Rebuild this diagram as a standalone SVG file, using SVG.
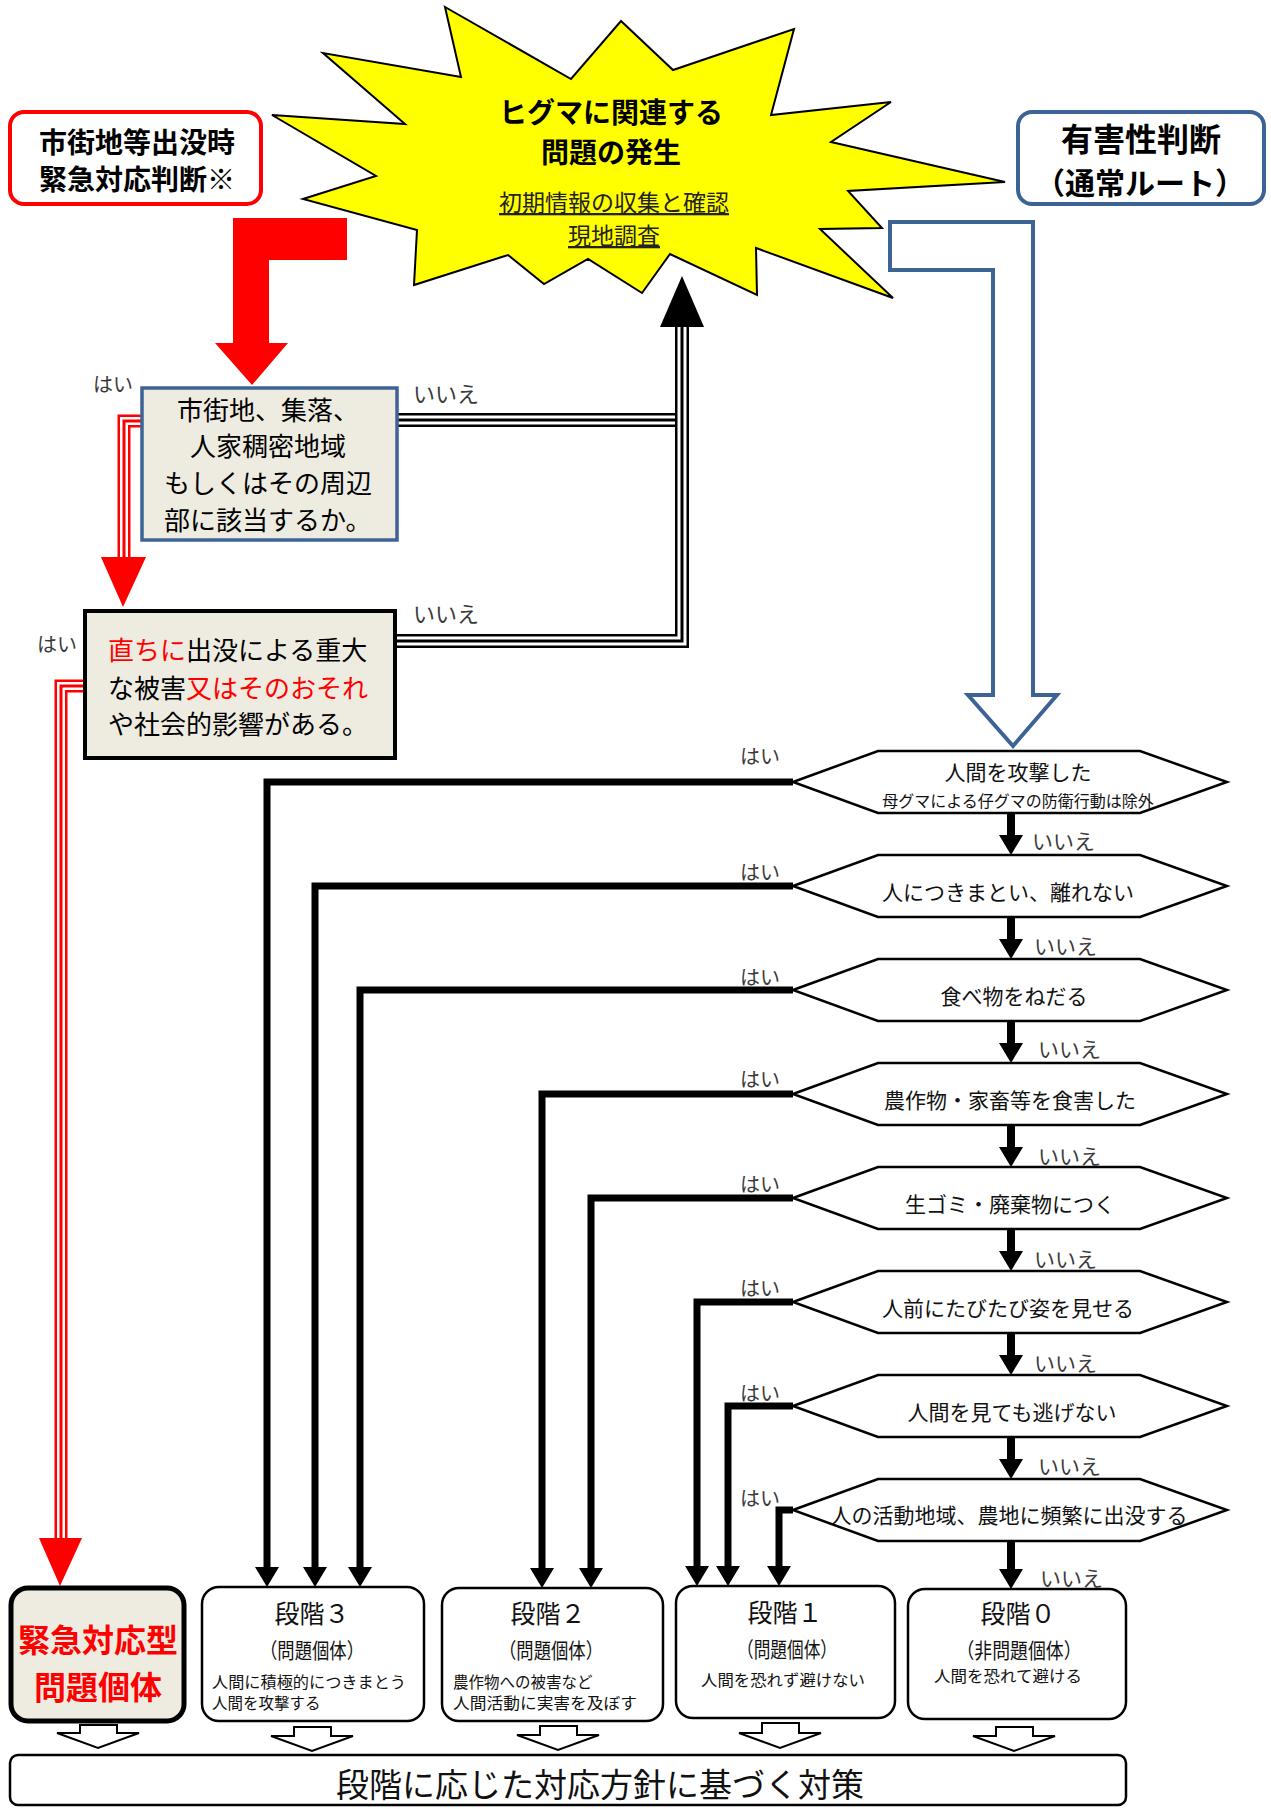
<svg xmlns="http://www.w3.org/2000/svg" width="1271" height="1809" viewBox="0 0 1271 1809">
<defs>
<style>
text { font-family: "Noto Sans CJK JP", "Noto Sans", sans-serif; }
.b { font-weight: bold; }
.mid { text-anchor: middle; }
.lbl { font-size: 20px; fill: #3a3a3a; }
.lbl2 { font-size: 22px; fill: #3a3a3a; }
.no { font-size: 21px; fill: #3a3a3a; }
.hx { fill: #fff; stroke: #000; stroke-width: 2.5; }
.hxt { font-size: 21px; fill: #111; text-anchor: middle; }
.hxs { font-size: 16px; fill: #111; text-anchor: middle; }
.stage { fill: #fff; stroke: #000; stroke-width: 2.5; }
.st-title { font-size: 25px; fill: #111; text-anchor: middle; }
.st-sub { font-size: 21px; fill: #111; text-anchor: middle; }
.st-desc { font-size: 15.5px; fill: #111; }
.blk { fill: none; stroke: #000; stroke-width: 7; stroke-linejoin: miter; }
.dn { fill: none; stroke: #000; stroke-width: 8; }
.hollow { fill: #fff; stroke: #000; stroke-width: 2; stroke-linejoin: miter; }
.k1 { fill: none; stroke: #000; stroke-width: 14; stroke-linejoin: miter; }
.w1 { fill: none; stroke: #fff; stroke-width: 9; stroke-linejoin: miter; }
.k2 { fill: none; stroke: #000; stroke-width: 3; stroke-linejoin: miter; }
.r1 { fill: none; stroke: #f00; stroke-width: 13; stroke-linejoin: miter; }
.rw { fill: none; stroke: #fff; stroke-width: 8; stroke-linejoin: miter; }
.r2 { fill: none; stroke: #f00; stroke-width: 3; stroke-linejoin: miter; }
.beige { fill: #EEECE1; }
</style>
<marker id="ah" markerUnits="userSpaceOnUse" viewBox="0 -12 20 24" refX="0" refY="0" markerWidth="20" markerHeight="24" orient="auto" overflow="visible">
<path d="M0,-12 L20,0 L0,12 Z" fill="#000"/>
</marker>
</defs>
<rect x="0" y="0" width="1271" height="1809" fill="#fff"/>

<g id="connectors">
  <!-- red L arrow from emergency judgement -->
  <polygon points="347,218 233,218 233,343 215,343 252,385 288,343 269,343 269,260 347,260" fill="#f00"/>
  <!-- blue hollow L arrow (normal route) -->
  <polygon points="890,222 1033,222 1033,695 1057,695 1013,746 968,695 993,695 993,270 890,270" fill="#fff" stroke="#3D6396" stroke-width="4"/>

  <!-- black triple lines back to start -->
  <path class="k1" d="M397,420 H682"/>
  <path class="w1" d="M397,420 H682"/>
  <path class="k2" d="M397,420 H682"/>
  <path class="k1" d="M395,641 H682 V326"/>
  <path class="w1" d="M395,641 H682 V326"/>
  <path class="k2" d="M395,641 H682 V326"/>
  <polygon points="660,327 704,327 682,276" fill="#000"/>

  <!-- red triple lines (yes) -->
  <path class="r1" d="M142,421 H124 V558"/>
  <path class="rw" d="M142,421 H124 V558"/>
  <path class="r2" d="M142,421 H124 V558"/>
  <polygon points="101,557 146,557 123,607" fill="#f00"/>
  <path class="r1" d="M85,686 H61 V1539"/>
  <path class="rw" d="M85,686 H61 V1539"/>
  <path class="r2" d="M85,686 H61 V1539"/>
  <polygon points="39,1538 82,1538 60,1586" fill="#f00"/>

  <!-- yes branches from hexagons -->
  <path class="blk" d="M793,782 H267 V1567" marker-end="url(#ah)"/>
  <path class="blk" d="M793,886 H315 V1567" marker-end="url(#ah)"/>
  <path class="blk" d="M793,990 H360 V1567" marker-end="url(#ah)"/>
  <path class="blk" d="M793,1094 H542 V1568" marker-end="url(#ah)"/>
  <path class="blk" d="M793,1198 H591 V1568" marker-end="url(#ah)"/>
  <path class="blk" d="M793,1302 H697 V1566" marker-end="url(#ah)"/>
  <path class="blk" d="M793,1406 H728 V1566" marker-end="url(#ah)"/>
  <path class="blk" d="M793,1510 H779 V1566" marker-end="url(#ah)"/>

  <!-- no arrows between hexagons -->
  <path class="dn" d="M1011,812 V835" marker-end="url(#ah)"/>
  <path class="dn" d="M1011,916 V939" marker-end="url(#ah)"/>
  <path class="dn" d="M1011,1020 V1043" marker-end="url(#ah)"/>
  <path class="dn" d="M1011,1124 V1147" marker-end="url(#ah)"/>
  <path class="dn" d="M1011,1228 V1251" marker-end="url(#ah)"/>
  <path class="dn" d="M1011,1332 V1355" marker-end="url(#ah)"/>
  <path class="dn" d="M1011,1436 V1459" marker-end="url(#ah)"/>
  <path class="dn" d="M1011,1540 V1569" marker-end="url(#ah)"/>

  <!-- hollow arrows to measures -->
  <polygon class="hollow" points="80,1725 117,1725 117,1733 139,1733 98,1748 57,1733 80,1733"/>
  <polygon class="hollow" points="294,1727 331,1727 331,1736 353,1736 312,1751 271,1736 294,1736"/>
  <polygon class="hollow" points="540,1726 577,1726 577,1735 599,1735 558,1750 517,1735 540,1735"/>
  <polygon class="hollow" points="762,1723 799,1723 799,1733 821,1733 780,1748 739,1733 762,1733"/>
  <polygon class="hollow" points="996,1727 1033,1727 1033,1736 1055,1736 1014,1751 973,1736 996,1736"/>

  <!-- labels -->
  <text class="lbl" x="93" y="392">はい</text>
  <text class="lbl2" x="413" y="402">いいえ</text>
  <text class="lbl2" x="413" y="622">いいえ</text>
  <text class="lbl" x="37" y="652">はい</text>
  <text class="lbl" x="740" y="764">はい</text>
  <text class="lbl" x="740" y="880">はい</text>
  <text class="lbl" x="740" y="985">はい</text>
  <text class="lbl" x="740" y="1087">はい</text>
  <text class="lbl" x="740" y="1192">はい</text>
  <text class="lbl" x="740" y="1296">はい</text>
  <text class="lbl" x="740" y="1401">はい</text>
  <text class="lbl" x="740" y="1506">はい</text>
  <text class="no" x="1032" y="849">いいえ</text>
  <text class="no" x="1034" y="954">いいえ</text>
  <text class="no" x="1038" y="1057">いいえ</text>
  <text class="no" x="1038" y="1164">いいえ</text>
  <text class="no" x="1034" y="1267">いいえ</text>
  <text class="no" x="1034" y="1371">いいえ</text>
  <text class="no" x="1038" y="1474">いいえ</text>
  <text class="no" x="1040" y="1586">いいえ</text>
</g>

<g id="n-emergency-judgement">
  <rect x="10" y="112" width="251" height="92" rx="14" fill="#fff" stroke="#f00" stroke-width="4"/>
  <text class="b mid" x="137" y="153" font-size="28">市街地等出没時</text>
  <text class="b mid" x="137" y="190" font-size="28">緊急対応判断※</text>
</g>

<g id="n-start">
  <polygon points="445,7 571,79 621,21 673,70 794,29 771,115 891,102 831,142 1005,182 848,191 882,228 820,229 893,298 756,248 757,295 670,254 642,293 588,259 544,284 508,255 414,285 417,230 303,199 376,176 272,115 405,124 323,53 461,77" fill="#ff0" stroke="#000" stroke-width="2"/>
  <text class="b mid" x="611" y="123" font-size="28">ヒグマに関連する</text>
  <text class="b mid" x="611" y="163" font-size="28">問題の発生</text>
  <text class="mid" x="614" y="211" font-size="23" fill="#222" text-decoration="underline">初期情報の収集と確認</text>
  <text class="mid" x="614" y="244" font-size="23" fill="#222" text-decoration="underline">現地調査</text>
</g>

<g id="n-harm-judgement">
  <rect x="1018" y="112" width="246" height="92" rx="14" fill="#fff" stroke="#3D6396" stroke-width="4"/>
  <text class="b mid" x="1141" y="151" font-size="32">有害性判断</text>
  <text class="b mid" x="1140" y="194" font-size="30">（通常ルート）</text>
</g>

<g id="n-q-urban">
  <rect x="142" y="388" width="255" height="152" class="beige" stroke="#3D6396" stroke-width="3.5"/>
  <text x="177" y="420" font-size="26">市街地、集落、</text>
  <text x="190" y="456" font-size="26">人家稠密地域</text>
  <text x="164" y="493" font-size="26">もしくはその周辺</text>
  <text x="164" y="530" font-size="26">部に該当するか。</text>
</g>

<g id="n-q-severe">
  <rect x="85" y="611" width="310" height="147" class="beige" stroke="#000" stroke-width="4"/>
  <text x="108" y="660" font-size="26"><tspan fill="#f00">直ちに</tspan>出没による重大</text>
  <text x="108" y="698" font-size="26">な被害<tspan fill="#f00">又はそのおそれ</tspan></text>
  <text x="108" y="734" font-size="26">や社会的影響がある。</text>
</g>

<g id="n-h1">
  <polygon class="hx" points="793,782 878,751 1140,751 1227,782 1140,813 878,813"/>
  <text class="hxt" x="1018" y="780">人間を攻撃した</text>
  <text class="hxs" x="1018" y="807">母グマによる仔グマの防衛行動は除外</text>
</g>
<g id="n-h2">
  <polygon class="hx" points="793,886 878,855 1140,855 1227,886 1140,917 878,917"/>
  <text class="hxt" x="1008" y="900">人につきまとい、離れない</text>
</g>
<g id="n-h3">
  <polygon class="hx" points="793,990 878,959 1140,959 1227,990 1140,1021 878,1021"/>
  <text class="hxt" x="1014" y="1004">食べ物をねだる</text>
</g>
<g id="n-h4">
  <polygon class="hx" points="793,1094 878,1063 1140,1063 1227,1094 1140,1125 878,1125"/>
  <text class="hxt" x="1010" y="1108">農作物・家畜等を食害した</text>
</g>
<g id="n-h5">
  <polygon class="hx" points="793,1198 878,1167 1140,1167 1227,1198 1140,1229 878,1229"/>
  <text class="hxt" x="1010" y="1212">生ゴミ・廃棄物につく</text>
</g>
<g id="n-h6">
  <polygon class="hx" points="793,1302 878,1271 1140,1271 1227,1302 1140,1333 878,1333"/>
  <text class="hxt" x="1008" y="1316">人前にたびたび姿を見せる</text>
</g>
<g id="n-h7">
  <polygon class="hx" points="793,1406 878,1375 1140,1375 1227,1406 1140,1437 878,1437"/>
  <text class="hxt" x="1012" y="1420">人間を見ても逃げない</text>
</g>
<g id="n-h8">
  <polygon class="hx" points="793,1510 878,1479 1140,1479 1227,1510 1140,1541 878,1541"/>
  <text class="hxt" x="1009" y="1523">人の活動地域、農地に頻繁に出没する</text>
</g>

<g id="n-emergency">
  <rect x="11" y="1588" width="173" height="133" rx="17" class="beige" stroke="#000" stroke-width="5"/>
  <text class="b mid" x="98" y="1652" font-size="32" fill="#f00">緊急対応型</text>
  <text class="b mid" x="98" y="1699" font-size="32" fill="#f00">問題個体</text>
</g>
<g id="n-stage3">
  <rect class="stage" x="202" y="1587" width="222" height="134" rx="17"/>
  <text class="st-title" x="312" y="1623">段階３</text>
  <text class="st-sub" x="312" y="1658" textLength="104" lengthAdjust="spacingAndGlyphs">（問題個体）</text>
  <text class="st-desc" x="212" y="1688" textLength="194" lengthAdjust="spacingAndGlyphs">人間に積極的につきまとう</text>
  <text class="st-desc" x="212" y="1709">人間を攻撃する</text>
</g>
<g id="n-stage2">
  <rect class="stage" x="442" y="1588" width="221" height="133" rx="17"/>
  <text class="st-title" x="548" y="1623">段階２</text>
  <text class="st-sub" x="551" y="1658" textLength="104" lengthAdjust="spacingAndGlyphs">（問題個体）</text>
  <text class="st-desc" x="453" y="1688">農作物への被害など</text>
  <text class="st-desc" x="453" y="1709" textLength="184" lengthAdjust="spacingAndGlyphs">人間活動に実害を及ぼす</text>
</g>
<g id="n-stage1">
  <rect class="stage" x="676" y="1586" width="219" height="132" rx="17"/>
  <text class="st-title" x="785" y="1622">段階１</text>
  <text class="st-sub" x="787" y="1657" textLength="100" lengthAdjust="spacingAndGlyphs">（問題個体）</text>
  <text class="st-desc mid" x="783" y="1686" textLength="164" lengthAdjust="spacingAndGlyphs">人間を恐れず避けない</text>
</g>
<g id="n-stage0">
  <rect class="stage" x="908" y="1589" width="218" height="130" rx="17"/>
  <text class="st-title" x="1018" y="1623">段階０</text>
  <text class="st-sub" x="1019" y="1658" textLength="125" lengthAdjust="spacingAndGlyphs">（非問題個体）</text>
  <text class="st-desc mid" x="1008" y="1682" textLength="148" lengthAdjust="spacingAndGlyphs">人間を恐れて避ける</text>
</g>

<g id="n-measures">
  <rect x="10" y="1755" width="1116" height="50" rx="8" fill="#fff" stroke="#000" stroke-width="2.5"/>
  <text class="mid" x="600" y="1797" font-size="33" fill="#111">段階に応じた対応方針に基づく対策</text>
</g>
</svg>
